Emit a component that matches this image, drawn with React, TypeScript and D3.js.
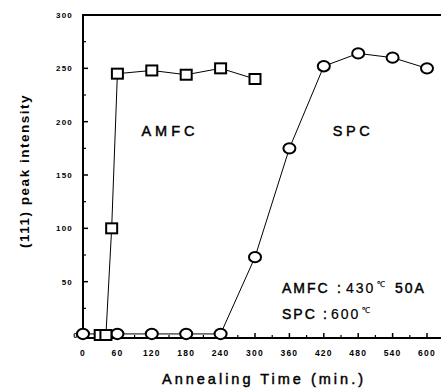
import React from "react";
import * as d3 from "d3";

const amfcTime = [30, 40, 50, 60, 120, 180, 240, 300];
const amfcValue = [0, 0, 100, 245, 248, 244, 250, 240];
const spcTime = [0, 60, 120, 180, 240, 300, 360, 420, 480, 540, 600];
const spcValue = [1, 1, 1, 1, 1, 73, 175, 252, 264, 260, 250];
const xTicks = [0, 60, 120, 180, 240, 300, 360, 420, 480, 540, 600];
const yTicks = [0, 50, 100, 150, 200, 250, 300];

const W = 441;
const H = 390;

export default function App() {
  const x = d3.scaleLinear().domain([0, 630]).range([83, 444.2]);
  const y = d3.scaleLinear().domain([0, 300]).range([335, 15]);
  const line = d3
    .line<[number, number]>()
    .x((d) => x(d[0]))
    .y((d) => y(d[1]));
  const amfc: [number, number][] = amfcTime.map((t, i) => [t, amfcValue[i]]);
  const spc: [number, number][] = spcTime.map((t, i) => [t, spcValue[i]]);
  const minorX = d3.range(30, 630, 60);
  const minorY = d3.range(25, 300, 50);
  const font = "'Liberation Sans', Arial, sans-serif";
  const axisY = 338;
  const thick = { stroke: "#000", strokeWidth: 0.45 };

  return (
    <svg
      width={W}
      height={H}
      style={{ position: "absolute", left: 0, top: 0, background: "#fff" }}
      fontFamily={font}
    >
      <rect x={0} y={0} width={W} height={H} fill="#fff" />
      {/* frame */}
      <line x1={83} x2={W} y1={15} y2={15} stroke="#000" strokeWidth={2} />
      <line x1={83} x2={83} y1={14} y2={axisY + 1} stroke="#000" strokeWidth={2} />
      <line x1={82} x2={W} y1={axisY} y2={axisY} stroke="#000" strokeWidth={2} />
      {/* y ticks */}
      {yTicks.map((t) => (
        <g key={"y" + t}>
          <line x1={83} x2={88} y1={y(t)} y2={y(t)} stroke="#000" strokeWidth={1.5} />
          <text
            x={t === 0 ? 79 : 73}
            y={y(t) + 3}
            textAnchor="end"
            fontSize={8}
            fontWeight="bold"
            letterSpacing={1.2}
          >
            {t}
          </text>
        </g>
      ))}
      {minorY.map((t) => (
        <line key={"my" + t} x1={83} x2={86} y1={y(t)} y2={y(t)} stroke="#000" strokeWidth={1.2} />
      ))}
      {/* x ticks */}
      {xTicks.map((t) => (
        <g key={"x" + t}>
          <line x1={x(t)} x2={x(t)} y1={axisY} y2={axisY - 5} stroke="#000" strokeWidth={1.5} />
          <text
            x={x(t)}
            y={356}
            textAnchor="middle"
            fontSize={8.5}
            fontWeight="bold"
            letterSpacing={1.2}
          >
            {t}
          </text>
        </g>
      ))}
      {minorX.map((t) => (
        <line key={"mx" + t} x1={x(t)} x2={x(t)} y1={axisY} y2={axisY - 3} stroke="#000" strokeWidth={1.2} />
      ))}
      {/* lines */}
      <path d={line(amfc) || ""} fill="none" stroke="#000" strokeWidth={1} />
      <path d={line(spc) || ""} fill="none" stroke="#000" strokeWidth={1} />
      {/* markers */}
      {spc.map((d, i) => (
        <ellipse
          key={"c" + i}
          cx={x(d[0])}
          cy={y(d[1])}
          rx={6}
          ry={5.2}
          fill="#fff"
          stroke="#000"
          strokeWidth={2}
        />
      ))}
      {amfc.map((d, i) => (
        <rect
          key={"s" + i}
          x={x(d[0]) - 5.5}
          y={y(d[1]) - 5}
          width={11}
          height={10}
          fill="#fff"
          stroke="#000"
          strokeWidth={2}
        />
      ))}
      {/* labels */}
      <text x={170} y={136} textAnchor="middle" fontSize={14.5} letterSpacing={4} {...thick}>
        AMFC
      </text>
      <text x={353} y={136} textAnchor="middle" fontSize={14.5} letterSpacing={3.5} {...thick}>
        SPC
      </text>
      <text y={293} fontSize={14} letterSpacing={2} {...thick}>
        <tspan x={282}>AMFC</tspan>
        <tspan x={337}>:</tspan>
        <tspan x={346} strokeWidth={0.2}>430</tspan>
        <tspan x={377} dy={-6} fontSize={8} strokeWidth={0.2} letterSpacing={0}>℃</tspan>
        <tspan x={395} dy={6}>50A</tspan>
      </text>
      <text y={319} fontSize={14} letterSpacing={2} {...thick}>
        <tspan x={282}>SPC</tspan>
        <tspan x={323}>:</tspan>
        <tspan x={331} strokeWidth={0.2}>600</tspan>
        <tspan x={362} dy={-6} fontSize={8} strokeWidth={0.2} letterSpacing={0}>℃</tspan>
      </text>
      <text
        transform={`translate(29,171) rotate(-90)`}
        textAnchor="middle"
        fontSize={13.5}
        fontWeight="bold"
        letterSpacing={1.5}
      >
        (111) peak intensity
      </text>
      <text x={264} y={384} textAnchor="middle" fontSize={14.5} letterSpacing={3} {...thick}>
        Annealing Time (min.)
      </text>
    </svg>
  );
}
